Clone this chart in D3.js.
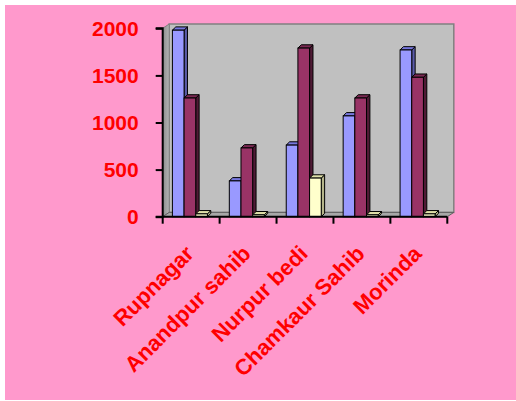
<!DOCTYPE html>
<html>
<head>
<meta charset="utf-8">
<script src="https://cdn.jsdelivr.net/npm/d3@7"></script>
<style>
  html, body { margin: 0; padding: 0; background: #ffffff; }
  svg { display: block; }
</style>
</head>
<body>
<script>
// ---- data ----
const categories = ["Rupnagar", "Anandpur sahib", "Nurpur bedi", "Chamkaur Sahib", "Morinda"];
const seriesNames = ["Series 1", "Series 2", "Series 3"];
const series1 = [1980, 380, 760, 1070, 1770];
const series2 = [1260, 730, 1790, 1260, 1480];
const series3 = [30, 20, 410, 20, 30];
const yTicks = [0, 500, 1000, 1500, 2000];

const seriesValues = [series1, series2, series3];
const seriesColors = [
  { front: "#9999FF", top: "#7777DD", side: "#5A5AA8" },
  { front: "#993366", top: "#7A2952", side: "#4F1A35" },
  { front: "#FFFFCC", top: "#E0E0A8", side: "#B5B58A" }
];

const W = 516, H = 401;
const svg = d3.select("body").append("svg").attr("width", W).attr("height", H);

// background
svg.append("rect").attr("x", 0).attr("y", 0).attr("width", W).attr("height", H).attr("fill", "#ffffff");
svg.append("rect").attr("x", 5).attr("y", 5).attr("width", W - 5).attr("height", 395).attr("fill", "#FF99CC");

const x0 = 162.7, x1 = 447.3, yBase = 216.7, yTop = 28.3;
const x = d3.scaleBand().domain(categories).range([x0, x1]).padding(0);
const y = d3.scaleLinear().domain([0, 2000]).range([yBase, yTop]);
const inner = d3.scaleBand().domain(d3.range(seriesNames.length)).range([9.7, 9.7 + 35]).padding(0);

const wdx = 6.5, wdy = -4.3;   // wall depth
const bdx = 3.4, bdy = -3.3;   // bar depth

const g = svg.append("g");

// back wall
g.append("rect")
  .attr("x", x0 + wdx).attr("y", yTop + wdy)
  .attr("width", x1 - x0).attr("height", yBase - yTop)
  .attr("fill", "#C0C0C0").attr("stroke", "#808080").attr("stroke-width", 1.5);

// left side wall
const defs = svg.append("defs");
const grad = defs.append("linearGradient").attr("id", "sideg").attr("x1", 0).attr("x2", 1).attr("y1", 0).attr("y2", 0);
grad.append("stop").attr("offset", "0%").attr("stop-color", "#8C8C8C");
grad.append("stop").attr("offset", "100%").attr("stop-color", "#B4B4B4");
g.append("polygon")
  .attr("points", [[x0, yTop], [x0 + wdx, yTop + wdy], [x0 + wdx, yBase + wdy], [x0, yBase]].map(p => p.join(",")).join(" "))
  .attr("fill", "url(#sideg)").attr("stroke", "#808080").attr("stroke-width", 1);

// floor
g.append("polygon")
  .attr("points", [[x0, yBase], [x0 + wdx, yBase + wdy], [x1 + wdx, yBase + wdy], [x1, yBase]].map(p => p.join(",")).join(" "))
  .attr("fill", "#A8A8A8").attr("stroke", "#606060").attr("stroke-width", 1);

// bars
const bars = [];
categories.forEach((c, ci) => {
  seriesValues.forEach((vals, si) => {
    bars.push({ c, ci, si, v: vals[ci] });
  });
});

const barG = g.selectAll("g.bar").data(bars).join("g").attr("class", "bar");
barG.each(function(d) {
  const sel = d3.select(this);
  const bx = x(d.c) + inner(d.si);
  const bw = inner.bandwidth();
  const by = y(d.v);
  const col = seriesColors[d.si];
  // right side
  sel.append("polygon")
    .attr("points", [[bx + bw, by], [bx + bw + bdx, by + bdy], [bx + bw + bdx, yBase + bdy], [bx + bw, yBase]].map(p => p.join(",")).join(" "))
    .attr("fill", col.side).attr("stroke", "#000").attr("stroke-width", 1).attr("stroke-linejoin", "round");
  // top
  sel.append("polygon")
    .attr("points", [[bx, by], [bx + bdx, by + bdy], [bx + bw + bdx, by + bdy], [bx + bw, by]].map(p => p.join(",")).join(" "))
    .attr("fill", col.top).attr("stroke", "#000").attr("stroke-width", 1).attr("stroke-linejoin", "round");
  // front
  sel.append("rect")
    .attr("x", bx).attr("y", by).attr("width", bw).attr("height", yBase - by)
    .attr("fill", col.front).attr("stroke", "#000").attr("stroke-width", 1);
});

// y axis
const yAxis = d3.axisLeft(y).tickValues(yTicks).tickSize(7).tickPadding(17).tickFormat(d3.format("d"));
const ya = svg.append("g").attr("transform", `translate(${x0},0)`).call(yAxis);
ya.select(".domain").attr("stroke", "#000").attr("stroke-width", 2).attr("d", `M-7,${yTop}H0V${yBase}H-7`);
ya.selectAll(".tick line").attr("stroke", "#000").attr("stroke-width", 2);
ya.selectAll(".tick text")
  .attr("fill", "#FF0000")
  .style("font-family", "'Liberation Sans', Arial, sans-serif")
  .style("font-weight", "bold")
  .style("font-size", "21px");

// x axis line + boundary ticks
svg.append("line").attr("x1", x0).attr("x2", x1).attr("y1", yBase).attr("y2", yBase)
  .attr("stroke", "#000").attr("stroke-width", 2);
const bounds = categories.map(c => x(c)).concat([x(categories[categories.length - 1]) + x.bandwidth()]);
svg.selectAll("line.xt").data(bounds).join("line").attr("class", "xt")
  .attr("x1", d => d).attr("x2", d => d).attr("y1", yBase).attr("y2", yBase + 7)
  .attr("stroke", "#000").attr("stroke-width", 2);

// category labels
svg.selectAll("text.cat").data(categories).join("text").attr("class", "cat")
  .attr("transform", d => `translate(${x(d) + x.bandwidth() / 2 + 4},255) rotate(-45)`)
  .attr("text-anchor", "end")
  .attr("fill", "#FF0000")
  .style("font-family", "'Liberation Sans', Arial, sans-serif")
  .style("font-weight", "bold")
  .style("font-size", "22px")
  .text(d => d);
</script>
</body>
</html>
